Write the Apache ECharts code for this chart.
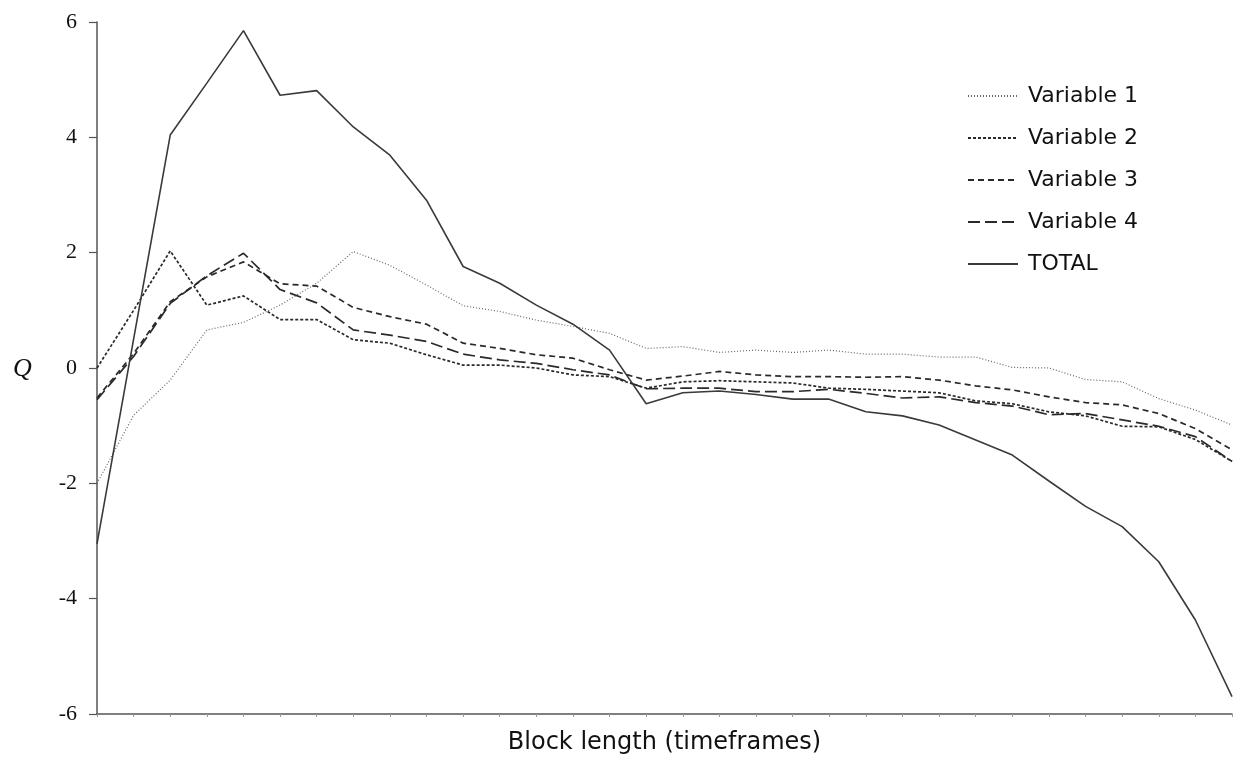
<!DOCTYPE html>
<html>
<head>
<meta charset="utf-8">
<script src="https://cdn.jsdelivr.net/npm/echarts@6/dist/echarts.min.js"></script>
<style>
  html, body { margin: 0; padding: 0; background: #fff; }
  #chart { width: 1234px; height: 763px; }
</style>
</head>
<body>
<div id="chart"></div>
<script>
// Block lengths (32 steps along the x axis; no tick labels shown)
const blocks = Array.from({ length: 32 }, (_, i) => String(i + 1));

const yTicks = { min: -6, max: 6, step: 2 };

const variable1 = [-2.0, -0.82, -0.21, 0.66, 0.79, 1.09, 1.47, 2.02, 1.78, 1.44,
  1.08, 0.98, 0.83, 0.72, 0.6, 0.34, 0.37, 0.27, 0.31, 0.27,
  0.31, 0.24, 0.24, 0.19, 0.19, 0.01, 0.0, -0.2, -0.24, -0.53,
  -0.73, -0.99];

const variable2 = [0.0, 1.0, 2.03, 1.09, 1.25, 0.84, 0.84, 0.49, 0.43, 0.23,
  0.05, 0.05, 0.0, -0.12, -0.15, -0.35, -0.24, -0.22, -0.24, -0.26,
  -0.35, -0.37, -0.4, -0.43, -0.57, -0.62, -0.76, -0.83, -1.01, -1.02,
  -1.24, -1.62];

const variable3 = [-0.52, 0.25, 1.15, 1.58, 1.84, 1.46, 1.42, 1.05, 0.89, 0.76,
  0.43, 0.34, 0.23, 0.17, -0.03, -0.21, -0.14, -0.06, -0.12, -0.15,
  -0.15, -0.16, -0.15, -0.21, -0.31, -0.38, -0.5, -0.6, -0.64, -0.79,
  -1.05, -1.42];

const variable4 = [-0.55, 0.2, 1.12, 1.6, 1.99, 1.36, 1.13, 0.66, 0.57, 0.46,
  0.24, 0.14, 0.08, -0.03, -0.12, -0.36, -0.35, -0.35, -0.41, -0.41,
  -0.37, -0.44, -0.52, -0.5, -0.6, -0.66, -0.81, -0.79, -0.9, -1.01,
  -1.19, -1.62];

const total = [-3.05, 0.5, 4.04, 4.94, 5.85, 4.73, 4.81, 4.18, 3.69, 2.91,
  1.76, 1.47, 1.09, 0.76, 0.31, -0.62, -0.43, -0.4, -0.46, -0.54,
  -0.54, -0.76, -0.83, -0.99, -1.25, -1.51, -1.96, -2.4, -2.75, -3.36,
  -4.37, -5.7];

const sansFont = '"DejaVu Sans", Verdana, sans-serif';
const serifFont = '"Liberation Serif", "Times New Roman", serif';

function lineSeries(name, data, color, width, dash) {
  return {
    name: name,
    type: 'line',
    data: data,
    symbol: 'none',
    smooth: false,
    lineStyle: { color: color, width: width, type: dash },
    itemStyle: { color: color },
    emphasis: { disabled: true }
  };
}

const chart = echarts.init(document.getElementById('chart'), null, { renderer: 'canvas' });

chart.setOption({
  animation: false,
  backgroundColor: '#ffffff',
  grid: { left: 97, right: 2, top: 22, bottom: 49, containLabel: false },
  legend: {
    orient: 'vertical',
    left: 962,
    top: 80,
    itemWidth: 50,
    itemHeight: 14,
    itemGap: 20,
    itemStyle: { opacity: 0 },
    textStyle: {
      fontFamily: sansFont,
      fontSize: 22,
      color: '#111',
      lineHeight: 22,
      padding: [0, 0, 0, 5]
    },
    data: ['Variable 1', 'Variable 2', 'Variable 3', 'Variable 4', 'TOTAL']
  },
  graphic: [{
    type: 'text',
    left: 13,
    top: 356,
    style: {
      text: 'Q',
      font: 'italic 26px ' + serifFont,
      fill: '#111'
    }
  }],
  xAxis: {
    type: 'category',
    data: blocks,
    boundaryGap: false,
    name: 'Block length (timeframes)',
    nameLocation: 'middle',
    nameGap: 17,
    nameTextStyle: { fontFamily: sansFont, fontSize: 24, color: '#111' },
    axisLine: { onZero: false, lineStyle: { color: '#555', width: 1.5 } },
    axisTick: { show: true, length: 3, lineStyle: { color: '#999' } },
    axisLabel: { show: false },
    splitLine: { show: false }
  },
  yAxis: {
    type: 'value',
    min: yTicks.min,
    max: yTicks.max,
    interval: yTicks.step,
    axisLine: { show: true, lineStyle: { color: '#555', width: 1.5 } },
    axisTick: { show: true, length: 8, lineStyle: { color: '#555', width: 1.2 } },
    axisLabel: {
      margin: 20,
      fontFamily: serifFont,
      fontSize: 22,
      color: '#111'
    },
    splitLine: { show: false }
  },
  series: [
    lineSeries('Variable 1', variable1, '#666', 1.2, [1, 2]),
    lineSeries('Variable 2', variable2, '#2a2a2a', 1.7, [3, 2]),
    lineSeries('Variable 3', variable3, '#2a2a2a', 1.7, [6, 4]),
    lineSeries('Variable 4', variable4, '#2a2a2a', 1.7, [12, 5]),
    lineSeries('TOTAL', total, '#3a3a3a', 1.6, 'solid')
  ]
});
</script>
</body>
</html>
